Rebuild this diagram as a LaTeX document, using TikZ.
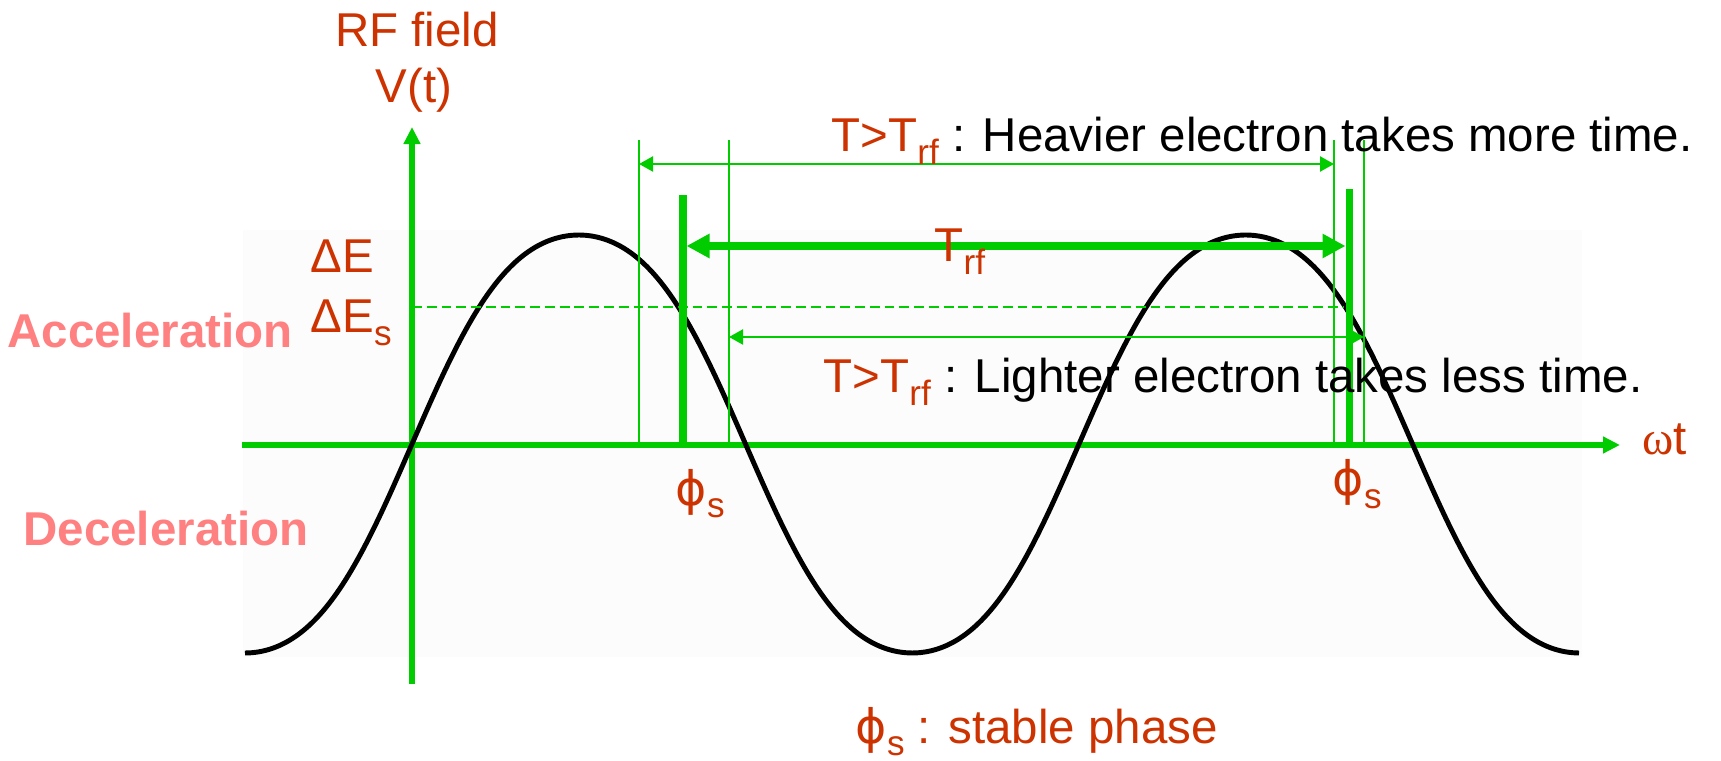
\documentclass[tikz,border=0pt]{standalone}
\usepackage{fontspec}
\setmainfont{Liberation Sans}
\newfontfamily\omegafont{Liberation Serif}
\newfontfamily\phifont{DejaVu Sans}
\usetikzlibrary{arrows.meta, positioning, calc}
\definecolor{rfred}{RGB}{204,51,0}
\definecolor{rfgreen}{RGB}{0,204,0}
\definecolor{rfpink}{RGB}{255,128,128}
\newcommand{\lowsub}[1]{\raisebox{-0.26em}{\fontsize{10}{12}\selectfont #1}}
\newcommand{\phis}{{\phifont ϕ}\lowsub{s}}

\begin{document}
\begin{tikzpicture}[
    x=0.01cm, y=-0.01cm,
    font=\fontsize{13.5}{16}\selectfont,
    axis/.style = {draw=rfgreen, line width=1.7pt, -{Triangle[length=0.17cm, width=0.16cm]}},
    guide/.style = {draw=rfgreen, line width=0.6pt},
    thinarr/.style = {draw=rfgreen, line width=0.6pt, {Triangle[length=0.14cm, width=0.15cm]}-{Triangle[length=0.14cm, width=0.15cm]}},
    phase/.style = {draw=rfgreen, line width=2pt},
    trfarr/.style = {draw=rfgreen, line width=2pt, {Triangle[length=0.23cm, width=0.23cm]}-{Triangle[length=0.23cm, width=0.23cm]}},
    level/.style = {draw=rfgreen, line width=0.45pt, dash pattern=on 2.8pt off 1.4pt},
    wave/.style = {draw=black, line width=1.4pt},
    lbl/.style = {inner sep=0pt, text=rfred},
    region/.style = {inner sep=0pt, text=rfpink, font=\fontsize{13.5}{16}\selectfont\bfseries},
    note/.style = {inner sep=0pt, text=black}
]
    \useasboundingbox (0,0) rectangle (1721,761);
    \fill [black!1] (243,230) rectangle (1582,657);
    % axes
    \coordinate (xl) at (242,445);
    \coordinate (xr) at (1620,445);
    \coordinate (yb) at (412,684);
    \coordinate (yt) at (412,127);
    \draw [axis] (xl) -- (xr);
    \draw [axis] (yb) -- (yt);
    % rf wave
    \draw [wave] plot [domain=245:1579, samples=240, smooth]
        (\x, {444-209*(sin((\x-412)/667*360)+0.04*sin(3*(\x-412)/667*360))/0.96});
    % guide lines
    \foreach \gx/\gn in {639/ga, 729/gb, 1334/gc, 1364/gd} {
        \coordinate (\gn t) at (\gx,140);
        \coordinate (\gn b) at (\gx,445);
        \draw [guide] (\gn t) -- (\gn b);
    }
    \coordinate (sAt) at (683,195);
    \coordinate (sAb) at (683,445);
    \coordinate (sBt) at (1349,189);
    \coordinate (sBb) at (1349,445);
    \draw [phase] (sAt) -- (sAb);
    \draw [phase] (sBt) -- (sBb);
    \coordinate (heavyy) at (0,164);
    \coordinate (trfy) at (0,246);
    \coordinate (lighty) at (0,337);
    \draw [thinarr] (gat |- heavyy) -- (gct |- heavyy);
    \draw [trfarr, shorten <=0.035cm, shorten >=0.035cm] (sAt |- trfy) -- (sBt |- trfy);
    \draw [thinarr] (gbt |- lighty) -- (gdt |- lighty);
    \coordinate (dEsl) at (412,307);
    \coordinate (dEsr) at (1343,307);
    \draw [level] (dEsl) -- (dEsr);
    % labels
    \node [lbl, anchor=base] (rftitle) at (417,47) {RF field};
    \node [lbl, anchor=base] (vt) at (414,103) {V(t)};
    \node [lbl, anchor=base west] (dE) at (310,273) {ΔE};
    \node [lbl, anchor=base west] (dEs) at (310,333) {ΔE\lowsub{s}};
    \node [region, anchor=base] (accel) at (150,348) {Acceleration};
    \node [region, anchor=base] (decel) at (166,545) {Deceleration};
    \node [lbl, anchor=base west] (phisA) at (675,505) {\phis};
    \node [lbl, anchor=base west] (phisB) at (1332,496) {\phis};
    \node [lbl, anchor=base west] (omegat) at (1642,455) {{\omegafont ω}t};
    \node [lbl, anchor=base west] (trf) at (934,262) {T\lowsub{rf}};
    \node [note, anchor=base west] (heavy) at (831,152) {\textcolor{rfred}{T>T\lowsub{rf}} : Heavier electron takes more time.};
    \node [note, anchor=base west] (light) at (823,393) {\textcolor{rfred}{T>T\lowsub{rf}} : Lighter electron takes less time.};
    \node [lbl, anchor=base west] (stable) at (855,743) {\phis{} : stable phase};
\end{tikzpicture}
\end{document}
